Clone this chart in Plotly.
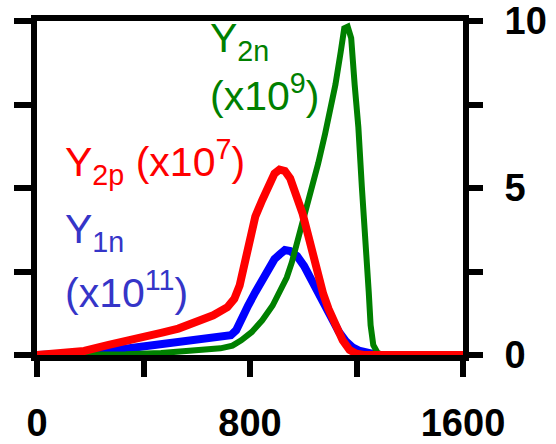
import plotly.graph_objects as go

# Time axis (x) and scaled yields for each species
x_y2p = [0, 85, 177, 269, 334, 400, 466, 531, 597, 662, 715, 741, 761, 780, 800, 820, 846, 872,
         892, 911, 931, 951, 977, 997, 1016, 1036, 1056, 1075, 1095, 1121, 1148, 1174, 1200, 1226, 1600]
y_y2p = [0.0, 0.03, 0.12, 0.30, 0.40, 0.51, 0.66, 0.79, 0.97, 1.19, 1.43, 1.68, 2.08, 2.77, 3.36, 4.15,
         4.64, 5.09, 5.43, 5.55, 5.51, 5.29, 4.74, 4.25, 3.66, 2.96, 2.37, 1.83, 1.38, 0.89, 0.44, 0.15,
         0.04, 0.0, 0.0]

x_y1n = [0, 164, 230, 295, 400, 466, 531, 597, 662, 728, 748, 767, 793, 820, 846, 872, 892, 911,
         931, 951, 977, 1003, 1030, 1056, 1082, 1108, 1134, 1161, 1187, 1213, 1246, 1279, 1600]
y_y1n = [0.0, 0.0, 0.06, 0.15, 0.25, 0.32, 0.40, 0.45, 0.53, 0.59, 0.74, 1.09, 1.48, 1.88, 2.27, 2.67,
         2.87, 3.01, 3.14, 3.11, 2.96, 2.67, 2.27, 1.83, 1.38, 1.04, 0.69, 0.40, 0.22, 0.12, 0.06, 0.0, 0.0]

x_y2n = [0, 243, 334, 466, 597, 689, 734, 767, 807, 846, 885, 918, 938, 957, 977, 1003, 1030, 1056,
         1082, 1102, 1121, 1141, 1154, 1167, 1180, 1193, 1207, 1220, 1233, 1246, 1253, 1263, 1279,
         1298, 1600]
y_y2n = [0.0, 0.0, 0.02, 0.06, 0.12, 0.20, 0.28, 0.44, 0.69, 1.04, 1.48, 1.98, 2.32, 2.77, 3.36, 4.05,
         4.84, 5.73, 6.62, 7.31, 8.10, 9.09, 9.78, 9.83, 9.49, 8.10, 6.82, 5.04, 3.66, 1.88, 0.89, 0.30,
         0.07, 0.0, 0.0]

x_ticks = [0, 400, 800, 1200, 1600]
x_tick_text = ["0", "", "800", "", "1600"]
y_ticks = [0, 2.5, 5, 7.5, 10]
y_tick_text = ["0", "", "5", "", "10"]

W, H = 556, 444
L, R, T, B = 37, 93, 21, 89

fig = go.Figure()
fig.add_trace(go.Scatter(x=x_y1n, y=y_y1n, mode="lines",
                         line=dict(color="#0000ff", width=8), showlegend=False))
fig.add_trace(go.Scatter(x=x_y2n, y=y_y2n, mode="lines",
                         line=dict(color="#008000", width=6), showlegend=False))
fig.add_trace(go.Scatter(x=x_y2p, y=y_y2p, mode="lines",
                         line=dict(color="#ff0000", width=8), showlegend=False))

tick_font = dict(family="Liberation Sans, Arial, sans-serif", size=38, color="black", weight="bold")
axis_common = dict(showline=True, linecolor="black", linewidth=6, ticks="outside",
                   tickwidth=6, tickcolor="black", showgrid=False, zeroline=False,
                   automargin=False)

fig.update_layout(
    width=W, height=H,
    margin=dict(l=L, r=R, t=T, b=B, autoexpand=False),
    paper_bgcolor="white", plot_bgcolor="white",
    xaxis=dict(range=[0, 1600], tickvals=x_ticks, ticktext=x_tick_text, ticklen=16,
               tickfont=tick_font, mirror=True, ticklabelstandoff=13, **axis_common),
    yaxis=dict(range=[0, 10], tickvals=y_ticks, showticklabels=False, ticklen=17,
               **axis_common),
    yaxis2=dict(range=[0, 10], tickvals=y_ticks, ticktext=y_tick_text, ticklen=14,
                overlaying="y", side="right", tickfont=tick_font, ticklabelstandoff=14,
                **axis_common),
)

# empty trace bound to the right axis so its ticks are drawn
fig.add_trace(go.Scatter(x=[None], y=[None], yaxis="y2", showlegend=False, hoverinfo="skip"))


def px_to_paper(px, py):
    return (px - L) / (W - L - R), (H - B - py) / (H - T - B)


label_font = dict(family="Liberation Sans, Arial, sans-serif", size=41)
labels = [
    ("Y<sub>2n</sub>", 208, 41, "#008000"),
    ("(x10<sup>9</sup>)", 208, 93, "#008000"),
    ("Y<sub>2p</sub> (x10<sup>7</sup>)", 63, 162, "#ff0000"),
    ("Y<sub>1n</sub>", 63, 232, "#3535c8"),
    ("(x10<sup>11</sup>)", 63, 290, "#3535c8"),
]
for text, px, py, color in labels:
    ax, ay = px_to_paper(px, py)
    fig.add_annotation(text=text, x=ax, y=ay, xref="paper", yref="paper",
                       xanchor="left", yanchor="middle", showarrow=False,
                       font=dict(color=color, **label_font))

fig.write_html("out.html")
